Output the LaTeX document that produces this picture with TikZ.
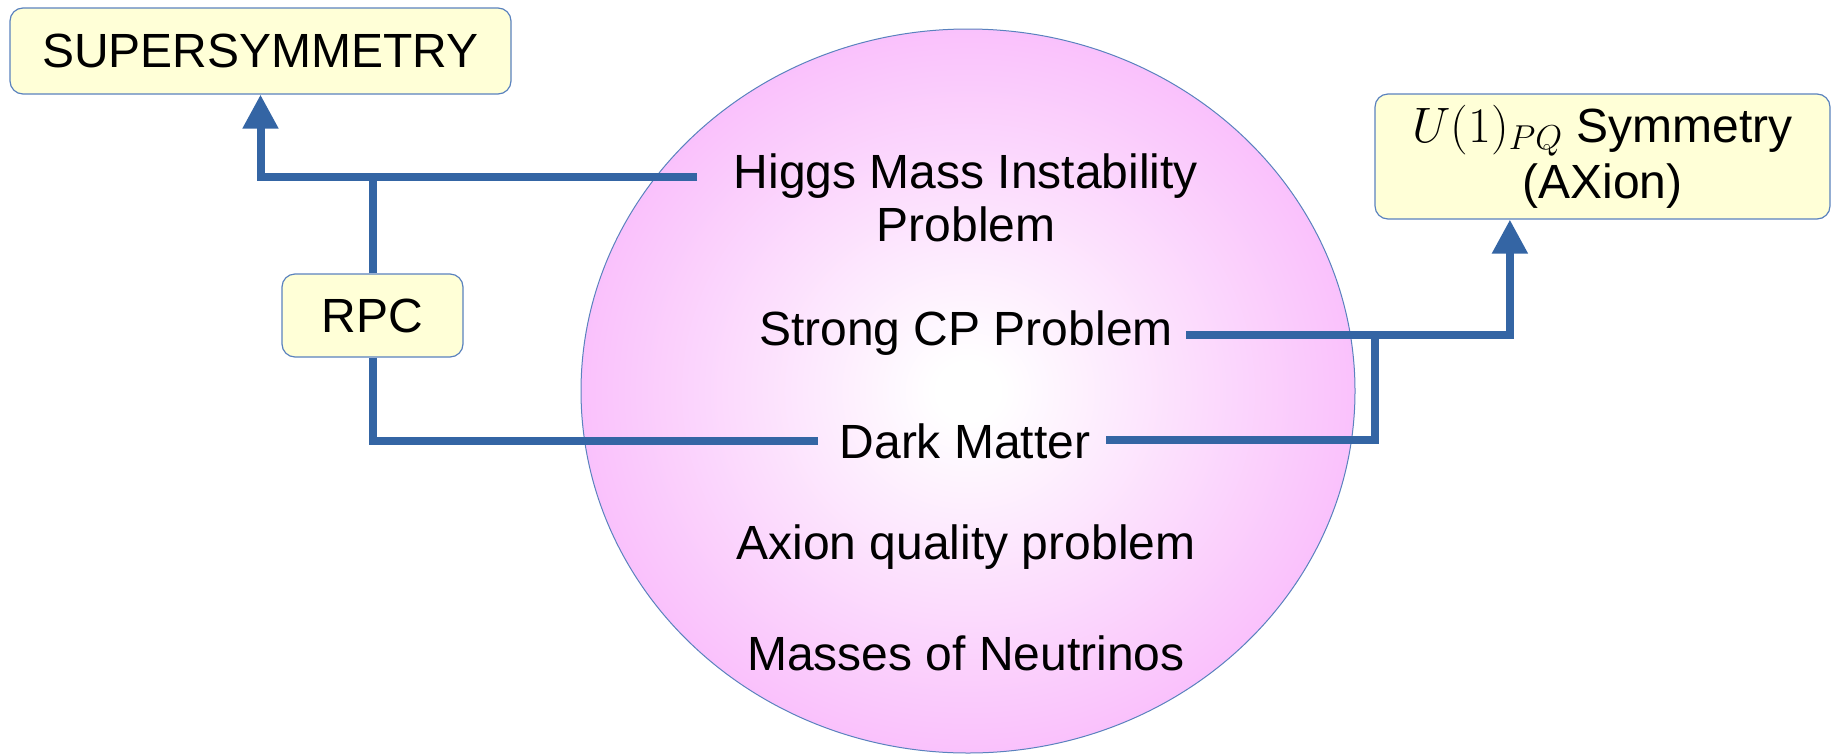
\documentclass[tikz,border=0pt]{standalone}
\usepackage{graphicx}
\usepackage{fontspec}
\setmainfont{Liberation Sans}
\usetikzlibrary{arrows.meta,calc,shapes.geometric}
\definecolor{connblue}{RGB}{52,101,164}
\definecolor{boxfill}{RGB}{255,255,215}
\definecolor{boxline}{RGB}{90,130,190}
\definecolor{pinkedge}{RGB}{247,166,250}
\pgfdeclareradialshading{pinkglow}{\pgfpoint{0bp}{0bp}}{color(0bp)=(white); color(2bp)=(white); color(35bp)=(pinkedge); color(50bp)=(pinkedge)}
\newcommand{\bigmathUPQ}{\scalebox{2}{\fontsize{24}{24}\selectfont$U(1)_{PQ}$}}
\tikzset{
  txt/.style={font=\fontsize{48}{53}\selectfont, align=center, inner sep=0pt},
  boxnode/.style={draw=boxline, line width=1.2pt, fill=boxfill, rounded corners=13pt, inner sep=0pt,
                  font=\fontsize{48}{56}\selectfont, align=center},
  conn/.style={draw=connblue, line width=8pt, line join=miter},
  arrowhd/.style={-{Triangle[length=34pt,width=34pt]}}
}
\begin{document}
\begin{tikzpicture}[x=1pt,y=-1pt]
\useasboundingbox (0,0) rectangle (1838,753);
% big ellipse
\node[ellipse, minimum width=774pt, minimum height=724pt, inner sep=0pt, outer sep=0pt,
      shading=pinkglow, draw=boxline, line width=1pt] (ell) at (968,391) {};
% boxes
\node[boxnode, minimum width=501pt, minimum height=86pt] (susy) at (260.5,51) {SUPERSYMMETRY};
\node[boxnode, minimum width=455pt, minimum height=125pt] (u1) at (1602.5,156.5) {\bigmathUPQ{} Symmetry\\(AXion)};
\node[boxnode, minimum width=181pt, minimum height=83pt] (rpc) at (372.5,315.5) {RPC};
% texts in the ellipse
\node[txt] (higgs) at (966,198) {Higgs Mass Instability\\Problem};
\node[txt] (strong) at (966,333) {Strong CP Problem};
\node[txt] (dark) at (965,441) {Dark Matter};
\node[txt] (axq) at (966,547) {Axion quality problem};
\node[txt] (nu) at (966,653) {Masses of Neutrinos};
% connector ends
\coordinate (hL) at (697,177);
\coordinate (dL) at (818,441);
\coordinate (sR) at (1186,335);
\coordinate (dR) at (1106,440);
\coordinate (jR) at (1375,335);
\coordinate (u1in) at ($(u1.south west)!0.297!(u1.south east)$);
% connectors
\draw[conn, arrowhd] (hL) -| (susy.south);
\draw[conn] (rpc.north) -- (rpc.north |- hL);
\draw[conn] (rpc.south) |- (dL);
\draw[conn, arrowhd] (sR) -| (u1in);
\draw[conn] (dR) -| (jR);
\end{tikzpicture}
\end{document}
